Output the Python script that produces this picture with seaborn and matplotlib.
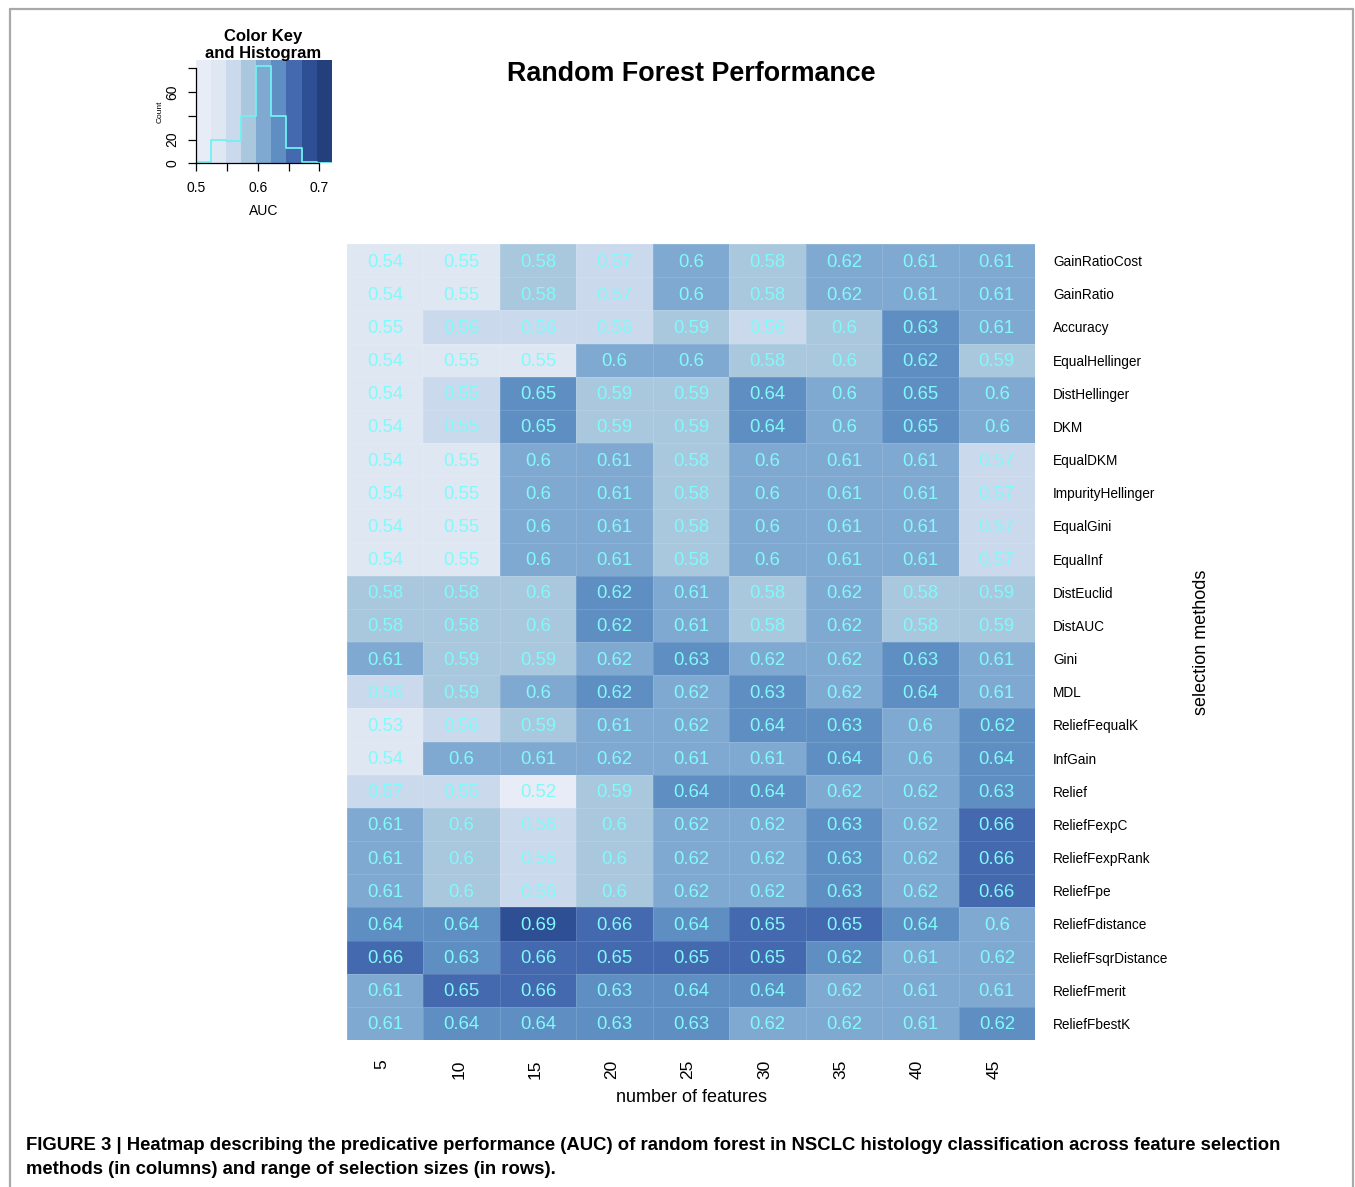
import numpy as np
import pandas as pd
import matplotlib
matplotlib.use("Agg")
import matplotlib.pyplot as plt
import seaborn as sns
from matplotlib.colors import ListedColormap, BoundaryNorm
from matplotlib.lines import Line2D
import matplotlib.transforms as mtransforms

sns.set_theme(style="white")
plt.rcParams["font.family"] = ["Liberation Sans", "DejaVu Sans"]
plt.rcParams.update({
    "text.color": "black",
    "axes.labelcolor": "black",
    "xtick.color": "black",
    "ytick.color": "black",
})

# ---- data -----------------------------------------------------------------
n_features = [5, 10, 15, 20, 25, 30, 35, 40, 45]

methods = [
    "GainRatioCost", "GainRatio", "Accuracy", "EqualHellinger", "DistHellinger",
    "DKM", "EqualDKM", "ImpurityHellinger", "EqualGini", "EqualInf",
    "DistEuclid", "DistAUC", "Gini", "MDL", "ReliefFequalK", "InfGain",
    "Relief", "ReliefFexpC", "ReliefFexpRank", "ReliefFpe", "ReliefFdistance",
    "ReliefFsqrDistance", "ReliefFmerit", "ReliefFbestK",
]

# AUC per selection method (rows) and number of features (columns)
auc_gain_ratio_cost = [0.540, 0.548, 0.580, 0.570, 0.602, 0.580, 0.618, 0.610, 0.610]
auc_gain_ratio = [0.540, 0.548, 0.580, 0.570, 0.602, 0.580, 0.618, 0.610, 0.610]
auc_accuracy = [0.548, 0.560, 0.560, 0.560, 0.590, 0.560, 0.596, 0.630, 0.610]
auc_equal_hellinger = [0.540, 0.548, 0.548, 0.602, 0.602, 0.580, 0.596, 0.623, 0.590]
auc_dist_hellinger = [0.540, 0.552, 0.646, 0.590, 0.590, 0.640, 0.602, 0.646, 0.602]
auc_dkm = [0.540, 0.552, 0.646, 0.590, 0.590, 0.640, 0.602, 0.646, 0.602]
auc_equal_dkm = [0.540, 0.548, 0.602, 0.610, 0.580, 0.602, 0.610, 0.610, 0.570]
auc_impurity_hellinger = [0.540, 0.548, 0.602, 0.610, 0.580, 0.602, 0.610, 0.610, 0.570]
auc_equal_gini = [0.540, 0.548, 0.602, 0.610, 0.580, 0.602, 0.610, 0.610, 0.570]
auc_equal_inf = [0.540, 0.548, 0.602, 0.610, 0.580, 0.602, 0.610, 0.610, 0.570]
auc_dist_euclid = [0.580, 0.580, 0.596, 0.623, 0.610, 0.580, 0.618, 0.580, 0.590]
auc_dist_auc = [0.580, 0.580, 0.596, 0.623, 0.610, 0.580, 0.618, 0.580, 0.590]
auc_gini = [0.610, 0.590, 0.590, 0.618, 0.630, 0.618, 0.618, 0.630, 0.610]
auc_mdl = [0.560, 0.590, 0.602, 0.623, 0.618, 0.630, 0.618, 0.640, 0.610]
auc_relieff_equalk = [0.530, 0.560, 0.590, 0.610, 0.618, 0.640, 0.630, 0.602, 0.623]
auc_infgain = [0.540, 0.602, 0.610, 0.618, 0.610, 0.610, 0.640, 0.602, 0.640]
auc_relief = [0.570, 0.552, 0.520, 0.590, 0.640, 0.640, 0.618, 0.618, 0.630]
auc_relieff_expc = [0.610, 0.596, 0.560, 0.596, 0.618, 0.618, 0.630, 0.618, 0.660]
auc_relieff_exprank = [0.610, 0.596, 0.560, 0.596, 0.618, 0.618, 0.630, 0.618, 0.660]
auc_relieff_pe = [0.610, 0.596, 0.560, 0.596, 0.618, 0.618, 0.630, 0.618, 0.660]
auc_relieff_distance = [0.640, 0.640, 0.690, 0.660, 0.640, 0.651, 0.651, 0.640, 0.602]
auc_relieff_sqr_distance = [0.660, 0.630, 0.660, 0.651, 0.651, 0.651, 0.623, 0.610, 0.618]
auc_relieff_merit = [0.610, 0.651, 0.660, 0.630, 0.640, 0.640, 0.618, 0.610, 0.610]
auc_relieff_bestk = [0.610, 0.640, 0.640, 0.630, 0.630, 0.618, 0.618, 0.610, 0.623]

auc_rows = [
    auc_gain_ratio_cost, auc_gain_ratio, auc_accuracy, auc_equal_hellinger,
    auc_dist_hellinger, auc_dkm, auc_equal_dkm, auc_impurity_hellinger,
    auc_equal_gini, auc_equal_inf, auc_dist_euclid, auc_dist_auc, auc_gini,
    auc_mdl, auc_relieff_equalk, auc_infgain, auc_relief, auc_relieff_expc,
    auc_relieff_exprank, auc_relieff_pe, auc_relieff_distance,
    auc_relieff_sqr_distance, auc_relieff_merit, auc_relieff_bestk,
]

df = pd.DataFrame(auc_rows, index=methods, columns=n_features)
labels = df.apply(lambda col: col.map(lambda v: f"{round(v, 2):g}"))

# ---- colour scale (binned, like a breaks-based heatmap) -------------------
breaks = np.linspace(0.50, 0.72, 10)
bin_colors = ["#E7ECF6", "#DFE7F3", "#CAD9EC", "#A9C7DD", "#80A9D2",
              "#5F8FC2", "#4469AE", "#2E4F94", "#233F7C"]
cmap = ListedColormap(bin_colors)
norm = BoundaryNorm(breaks, cmap.N)

# ---- figure ----------------------------------------------------------------
W, H = 1355, 1187
fig = plt.figure(figsize=(W / 100, H / 100), dpi=100)
fig.patch.set_facecolor("white")


def fig_box(x0, y0, x1, y1):
    return [x0 / W, 1 - y1 / H, (x1 - x0) / W, (y1 - y0) / H]


# frame around the figure panel
frame_kw = dict(color="#A9A9A9", lw=1.6, transform=fig.transFigure)
fig.add_artist(Line2D([10 / W, 10 / W], [0, 1 - 8.5 / H], **frame_kw))
fig.add_artist(Line2D([10 / W, 1353 / W], [1 - 8.5 / H, 1 - 8.5 / H], **frame_kw))
fig.add_artist(Line2D([1353 / W, 1353 / W], [0, 1 - 8.5 / H], **frame_kw))

# main heatmap
ax = fig.add_axes(fig_box(347, 244, 1035, 1040))
sns.heatmap(
    df, ax=ax, cmap=cmap, norm=norm, cbar=False,
    annot=labels, fmt="",
    annot_kws=dict(color="#80FAFA", fontsize=13.3),
    linewidths=0.7, linecolor=(1, 1, 1, 0.12),
)
# nudge the cell labels slightly down so they sit on the optical centre
down = mtransforms.ScaledTranslation(0, -1.5 / 100, fig.dpi_scale_trans)
for t in ax.texts:
    t.set_transform(t.get_transform() + down)

ax.yaxis.tick_right()
ax.tick_params(axis="y", length=0, pad=13, labelsize=9.8, labelcolor="black")
ax.set_yticklabels(methods, rotation=0, ha="left")
ax.tick_params(axis="x", length=0, pad=14, labelsize=12.5, labelcolor="black")
ax.set_xticklabels([str(n) for n in n_features], rotation=90, va="top")
shift = mtransforms.ScaledTranslation(-3 / 100, 0, fig.dpi_scale_trans)
for lbl in ax.get_xticklabels():
    lbl.set_transform(lbl.get_transform() + shift)
ax.set_xlabel("")
ax.set_ylabel("")
for s in ax.spines.values():
    s.set_visible(False)

fig.text(691 / W, 1 - 1098 / H, "number of features", ha="center", va="center",
         fontsize=13)
fig.text(1202 / W, 1 - 642 / H, "selection methods", ha="center", va="center",
         rotation=90, fontsize=13)
fig.text(691 / W, 1 - 74 / H, "Random Forest Performance", ha="center",
         va="center", fontsize=19.4, fontweight="bold")

# colour key with histogram of all AUC values
kax = fig.add_axes(fig_box(196, 60, 331.7, 163.3))
counts, _ = np.histogram(df.values.ravel(), bins=breaks)
ymax = 87
kax.pcolormesh(breaks, [0, ymax], ((breaks[:-1] + breaks[1:]) / 2)[None, :],
               cmap=cmap, norm=norm, shading="flat")
kax.step(breaks, np.concatenate([counts, [counts[-1]]]), where="post",
         color="#6FF2F2", lw=1.3)
kax.set_xlim(0.50, 0.72)
kax.set_ylim(0, ymax)
kax.set_xticks([0.50, 0.55, 0.60, 0.65, 0.70])
kax.set_xticklabels(["0.5", "", "0.6", "", "0.7"])
kax.set_yticks([0, 20, 40, 60, 80])
kax.set_yticklabels(["0", "20", "", "60", ""], rotation=90, va="center")
kax.tick_params(axis="both", direction="out", length=6, width=0.9,
                color="black", labelsize=10, bottom=True, left=True)
kax.tick_params(axis="x", pad=7)
kax.tick_params(axis="y", pad=6)
for side in ("top", "right"):
    kax.spines[side].set_visible(False)
for side in ("left", "bottom"):
    kax.spines[side].set_color("black")
    kax.spines[side].set_linewidth(0.9)
kax.spines["left"].set_bounds(0, 80)
kax.spines["bottom"].set_bounds(0.50, 0.70)
kax.set_xlabel("AUC", fontsize=10, labelpad=6)
kax.set_ylabel("Count", fontsize=6, labelpad=1)
kax.grid(False)
fig.text(263 / W, 1 - 45 / H, "Color Key\nand Histogram", ha="center",
         va="center", fontsize=12, fontweight="bold", linespacing=1.2)

# caption
cap_kw = dict(fontsize=13.35, fontweight="bold", ha="left", va="center",
              family=["Liberation Sans", "DejaVu Sans"])
fig.text(26 / W, 1 - 1145 / H,
         "FIGURE 3 | Heatmap describing the predicative performance (AUC) of random "
         "forest in NSCLC histology classification across feature selection",
         **cap_kw)
fig.text(26 / W, 1 - 1170 / H,
         "methods (in columns) and range of selection sizes (in rows).", **cap_kw)

fig.savefig("out.png", dpi=100)
